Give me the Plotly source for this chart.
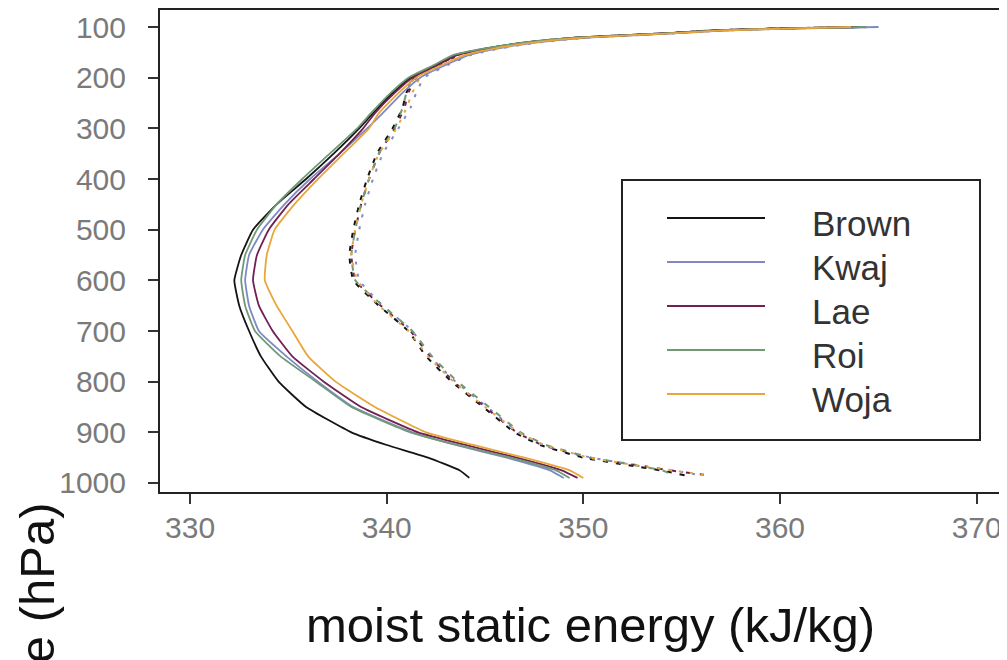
import plotly.graph_objects as go

# ---------------- data ----------------
stations = ["Brown", "Kwaj", "Lae", "Roi", "Woja"]
colors = ["#141414", "#7f89c6", "#722052", "#6f9a74", "#e9a63a"]

# pressure levels (hPa) for moist static energy h
p_h = [100, 103, 107, 111, 116, 121, 130, 142, 155, 175, 200, 230, 270, 300, 350,
       400, 450, 500, 550, 600, 650, 700, 750, 800, 850, 900, 925, 950, 975, 990]

h_brown = [364.2, 359.6, 356.4, 354.8, 352.2, 349.6, 347.2, 345.1, 343.5, 342.5, 341.2, 340.3, 339.3, 338.6, 337.3,
           335.9, 334.4, 333.2, 332.6, 332.25, 332.5, 333.0, 333.6, 334.5, 335.9, 338.2, 340.0, 342.1, 343.7, 344.2]
h_kwaj = [365.0, 360.6, 357.0, 355.3, 352.8, 350.2, 347.8, 345.7, 344.2, 343.0, 341.7, 340.8, 339.8, 339.0, 337.6,
          336.1, 334.8, 333.7, 333.0, 332.8, 333.0, 333.5, 334.9, 336.5, 338.3, 341.3, 343.5, 346.1, 348.3, 349.0]
h_lae = [364.0, 359.8, 356.5, 354.9, 352.3, 349.8, 347.3, 345.2, 343.6, 342.6, 341.3, 340.4, 339.4, 338.8, 337.6,
         336.3, 335.0, 334.0, 333.4, 333.2, 333.5, 334.2, 335.2, 336.8, 338.7, 341.6, 344.0, 346.6, 348.9, 349.7]
h_roi = [364.4, 359.9, 356.6, 354.9, 352.2, 349.6, 347.1, 345.0, 343.4, 342.4, 341.1, 340.2, 339.2, 338.5, 337.1,
         335.7, 334.4, 333.4, 332.8, 332.6, 332.8, 333.3, 334.6, 336.4, 338.2, 341.2, 343.6, 346.3, 348.6, 349.3]
h_woja = [363.6, 360.3, 356.9, 355.2, 352.6, 350.0, 347.6, 345.5, 344.0, 342.8, 341.5, 340.6, 339.6, 339.1, 337.8,
          336.5, 335.3, 334.3, 333.9, 333.8, 334.4, 335.2, 336.0, 337.4, 339.4, 342.0, 344.4, 347.0, 349.3, 350.0]

# pressure levels (hPa) for saturation moist static energy h*
p_hs = [100, 103, 107, 111, 116, 121, 130, 142, 155, 175, 200, 230, 260, 300, 350, 400,
        450, 500, 550, 600, 650, 700, 750, 800, 850, 900, 925, 950, 965, 975, 985]

hs_brown = [364.2, 359.6, 356.4, 354.8, 352.2, 349.6, 347.2, 345.1, 343.6, 342.6, 341.4, 341.0, 340.8, 340.3, 339.5, 339.0,
            338.6, 338.3, 338.1, 338.3, 339.6, 341.1, 342.0, 343.3, 344.9, 346.5, 347.8, 350.0, 352.3, 353.9, 355.2]
hs_kwaj = [365.0, 360.6, 357.0, 355.3, 352.8, 350.2, 347.8, 345.8, 344.3, 343.1, 341.9, 341.5, 341.2, 340.6, 339.8, 339.3,
           338.9, 338.6, 338.4, 338.6, 339.8, 341.3, 342.2, 343.5, 345.1, 346.7, 348.0, 350.4, 352.8, 354.5, 356.0]
hs_lae = [364.0, 359.8, 356.5, 354.9, 352.3, 349.8, 347.3, 345.3, 343.7, 342.7, 341.5, 341.1, 340.9, 340.4, 339.6, 339.1,
          338.7, 338.4, 338.2, 338.4, 339.7, 341.2, 342.2, 343.4, 345.0, 346.6, 347.9, 350.3, 352.7, 354.4, 356.4]
hs_roi = [364.4, 359.9, 356.6, 354.9, 352.2, 349.6, 347.1, 345.1, 343.5, 342.5, 341.3, 341.0, 340.8, 340.4, 339.6, 339.1,
          338.7, 338.4, 338.2, 338.4, 339.8, 341.3, 342.3, 343.6, 345.2, 346.8, 348.1, 350.4, 352.6, 354.0, 354.6]
hs_woja = [363.6, 360.3, 356.9, 355.2, 352.6, 350.0, 347.6, 345.6, 344.1, 342.9, 341.7, 341.3, 341.0, 340.5, 339.6, 339.1,
           338.7, 338.4, 338.2, 338.5, 339.6, 341.1, 342.1, 343.4, 345.0, 346.7, 348.0, 350.3, 352.7, 354.5, 356.3]

x_ticks = [330, 340, 350, 360, 370]
y_ticks = [100, 200, 300, 400, 500, 600, 700, 800, 900, 1000]

h_series = [h_brown, h_kwaj, h_lae, h_roi, h_woja]
hs_series = [hs_brown, hs_kwaj, hs_lae, hs_roi, hs_woja]
dashes = ["5px,8px", "3px,9px", "4px,10px", "6px,9px", "3px,8px"]

# ---------------- figure ----------------
fig = go.Figure()

for name, col, vals, d in zip(stations, colors, hs_series, dashes):
    fig.add_trace(go.Scatter(x=vals, y=p_hs, mode="lines", name=name + " h*",
                             line=dict(color=col, width=2, dash=d, shape="spline", smoothing=0.4),
                             showlegend=False))
for name, col, vals in zip(stations, colors, h_series):
    fig.add_trace(go.Scatter(x=vals, y=p_h, mode="lines", name=name,
                             line=dict(color=col, width=1.8, shape="spline", smoothing=0.4),
                             showlegend=False))

# page has an 8px body margin: size the figure so the plot lands where the reference has it
OFF = 8
W, H = 999, 652
L, R, T, B = 152, 2, 2, 168
pw, ph = W - L - R, H - T - B


def px_x(page_x):
    return (page_x - OFF - L) / pw


def px_y(page_y):
    return (H - B - (page_y - OFF)) / ph


FONT = "Liberation Sans, Arial, sans-serif"
tick_font = dict(family=FONT, size=30, color="#7a7a7a")

fig.update_layout(
    width=W, height=H,
    margin=dict(l=L, r=R, t=T, b=B, autoexpand=False),
    paper_bgcolor="white", plot_bgcolor="white",
    showlegend=False,
    xaxis=dict(range=[328.47, 371.44], tickvals=x_ticks, ticktext=[str(v) for v in x_ticks],
               showgrid=False, zeroline=False, showline=True, linecolor="#222222", linewidth=2,
               mirror=True, ticks="outside", ticklen=10, tickwidth=2, tickcolor="#333333",
               tickfont=tick_font, ticklabelstandoff=-2),
    yaxis=dict(range=[1017.8, 66.4], tickvals=y_ticks, ticktext=[str(v) for v in y_ticks],
               showgrid=False, zeroline=False, showline=True, linecolor="#222222", linewidth=2,
               mirror=True, ticks="outside", ticklen=10, tickwidth=2, tickcolor="#333333",
               tickfont=tick_font, ticklabelstandoff=16),
)

# x-axis title
fig.add_annotation(text="moist static energy (kJ/kg)", xref="paper", yref="paper",
                   x=px_x(590), y=px_y(625), xanchor="center", yanchor="middle", showarrow=False,
                   font=dict(family=FONT, size=49, color="#111111"))

# y-axis title (partly cut off at the bottom edge, as in the reference)
fig.add_annotation(text="Pressure (hPa)", textangle=-90, xref="paper", yref="paper",
                   x=px_x(37), y=px_y(667), xanchor="center", yanchor="middle", showarrow=False,
                   font=dict(family=FONT, size=49, color="#111111"))

# legend box
fig.add_shape(type="rect", xref="paper", yref="paper",
              x0=px_x(622), x1=px_x(980), y0=px_y(440), y1=px_y(180),
              line=dict(color="#222222", width=2), fillcolor="white", layer="above")
leg_rows = [218, 262, 306, 350, 394]
for name, col, ry in zip(stations, colors, leg_rows):
    fig.add_shape(type="line", xref="paper", yref="paper",
                  x0=px_x(667), x1=px_x(765), y0=px_y(ry), y1=px_y(ry),
                  line=dict(color=col, width=2), layer="above")
    fig.add_annotation(text=name, xref="paper", yref="paper", x=px_x(810), y=px_y(ry + 5),
                       xanchor="left", yanchor="middle", showarrow=False,
                       font=dict(family=FONT, size=35, color="#333333"))

fig.write_html("out.html")
